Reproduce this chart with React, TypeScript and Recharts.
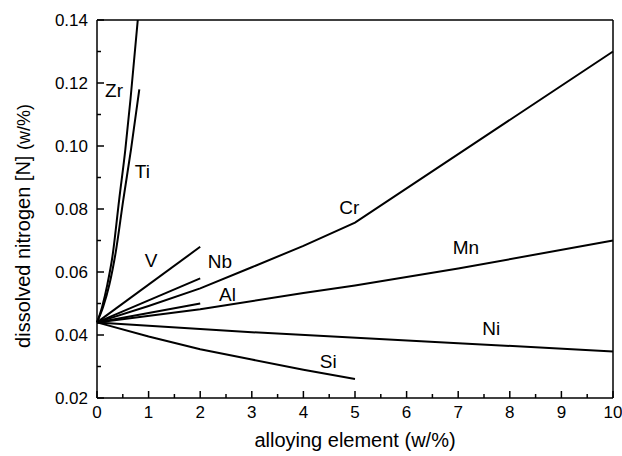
import { LineChart, Line, XAxis, YAxis, ReferenceDot } from "recharts";

// x axis: alloying element content, y axis: dissolved nitrogen
const X_TICKS = [0, 0.5, 1, 1.5, 2, 2.5, 3, 3.5, 4, 4.5, 5, 5.5, 6, 6.5, 7, 7.5, 8, 8.5, 9, 9.5, 10];
const X_MAJOR = [0, 1, 2, 3, 4, 5, 6, 7, 8, 9, 10];
const Y_TICKS = [0.02, 0.03, 0.04, 0.05, 0.06, 0.07, 0.08, 0.09, 0.1, 0.11, 0.12, 0.13, 0.14];
const Y_MAJOR = [0.02, 0.04, 0.06, 0.08, 0.1, 0.12, 0.14];

const zr = [[0, 0.044], [0.1, 0.049], [0.2, 0.056], [0.3, 0.065], [0.43, 0.083], [0.55, 0.099], [0.65, 0.115], [0.79, 0.14]];
const ti = [[0, 0.044], [0.12, 0.049], [0.24, 0.056], [0.36, 0.066], [0.51, 0.083], [0.66, 0.099], [0.82, 0.118]];
const v = [[0, 0.044], [2, 0.068]];
const nb = [[0, 0.044], [2, 0.058]];
const al = [[0, 0.044], [2, 0.05]];
const cr = [[0, 0.044], [1, 0.0492], [2, 0.0548], [3, 0.0615], [4, 0.0683], [5, 0.0757], [10, 0.13]];
const mn = [[0, 0.044], [2, 0.0482], [4, 0.0533], [5, 0.0557], [7, 0.0611], [10, 0.07]];
const ni = [[0, 0.044], [3, 0.0409], [7, 0.0374], [10, 0.0348]];
const si = [[0, 0.044], [1, 0.0395], [2, 0.0355], [3, 0.0322], [4, 0.029], [5, 0.026]];

const SERIES = [zr, ti, v, nb, al, cr, mn, ni, si];

const LABELS: [string, number, number][] = [
  ["Zr", 0.33, 0.1176],
  ["Ti", 0.88, 0.092],
  ["V", 1.05, 0.0636],
  ["Nb", 2.38, 0.0633],
  ["Al", 2.53, 0.0528],
  ["Cr", 4.89, 0.0806],
  ["Mn", 7.15, 0.0677],
  ["Ni", 7.64, 0.042],
  ["Si", 4.48, 0.0317],
];

const FONT = "'Liberation Sans', Arial, sans-serif";

function BottomTick({ x, y, payload }: any) {
  const major = X_MAJOR.includes(payload.value);
  return (
    <g>
      <line x1={x} y1={y} x2={x} y2={y - (major ? 7 : 4)} stroke="#000" strokeWidth={1.5} />
      {major && (
        <text x={x} y={y + 20} textAnchor="middle" fontSize={17} fill="#000">
          {payload.value}
        </text>
      )}
    </g>
  );
}

function TopTick({ x, y, payload }: any) {
  const major = X_MAJOR.includes(payload.value);
  return <line x1={x} y1={y} x2={x} y2={y + (major ? 7 : 4)} stroke="#000" strokeWidth={1.5} />;
}

function LeftTick({ x, y, payload }: any) {
  const major = Y_MAJOR.includes(payload.value);
  return (
    <g>
      <line x1={x} y1={y} x2={x + (major ? 7 : 4)} y2={y} stroke="#000" strokeWidth={1.5} />
      {major && (
        <text x={x - 9} y={y + 6} textAnchor="end" fontSize={17} fill="#000">
          {payload.value.toFixed(2)}
        </text>
      )}
    </g>
  );
}

function RightTick({ x, y, payload }: any) {
  const major = Y_MAJOR.includes(payload.value);
  return <line x1={x} y1={y} x2={x - (major ? 7 : 4)} y2={y} stroke="#000" strokeWidth={1.5} />;
}

export default function App() {
  return (
    <div style={{ position: "absolute", left: 0, top: 0, width: 622, height: 456, fontFamily: FONT, background: "#fff" }}>
      <LineChart width={622} height={456} margin={{ top: 19, right: 8, bottom: 0, left: 0 }}>
        <XAxis
          type="number"
          dataKey="x"
          domain={[0, 10]}
          ticks={X_TICKS}
          interval={0}
          height={58}
          tickSize={0}
          tickMargin={0}
          tickLine={false}
          tick={<BottomTick />}
          axisLine={{ stroke: "#000", strokeWidth: 1.5 }}
        />
        <XAxis
          xAxisId="top"
          orientation="top"
          type="number"
          dataKey="x"
          domain={[0, 10]}
          ticks={X_TICKS}
          interval={0}
          height={1}
          tickSize={0}
          tickMargin={0}
          tickLine={false}
          tick={<TopTick />}
          axisLine={{ stroke: "#000", strokeWidth: 1.5 }}
        />
        <YAxis
          type="number"
          domain={[0.02, 0.14]}
          ticks={Y_TICKS}
          interval={0}
          width={97}
          tickSize={0}
          tickMargin={0}
          tickLine={false}
          tick={<LeftTick />}
          axisLine={{ stroke: "#000", strokeWidth: 1.5 }}
        />
        <YAxis
          yAxisId="right"
          orientation="right"
          type="number"
          domain={[0.02, 0.14]}
          ticks={Y_TICKS}
          interval={0}
          width={1}
          tickSize={0}
          tickMargin={0}
          tickLine={false}
          tick={<RightTick />}
          axisLine={{ stroke: "#000", strokeWidth: 1.5 }}
        />
        {SERIES.map((s, i) => (
          <Line
            key={i}
            data={s.map(([x, y]) => ({ x, y }))}
            dataKey="y"
            type={i < 2 ? "monotone" : "linear"}
            stroke="#000"
            strokeWidth={2}
            dot={false}
            isAnimationActive={false}
          />
        ))}
        {LABELS.map(([name, x, y]) => (
          <ReferenceDot
            key={name}
            x={x}
            y={y}
            r={0}
            fill="none"
            stroke="none"
            label={{ value: name, position: "center", fontSize: 19, fill: "#000" }}
          />
        ))}
      </LineChart>
      <svg width={622} height={456} style={{ position: "absolute", left: 0, top: 0, pointerEvents: "none" }}>
        <text x={355} y={447} textAnchor="middle" fontSize={20} fill="#000">
          alloying element (w/%)
        </text>
        <text transform="translate(30,226) rotate(-90)" textAnchor="middle" fontSize={20} fill="#000">
          dissolved nitrogen [N] <tspan fontSize={18}>(w/%)</tspan>
        </text>
      </svg>
    </div>
  );
}
